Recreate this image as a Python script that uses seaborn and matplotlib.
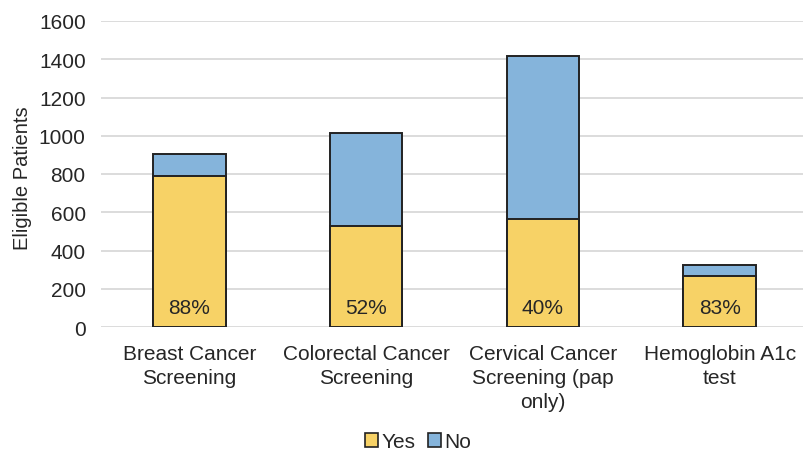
import matplotlib
matplotlib.use("Agg")
import matplotlib.pyplot as plt
import seaborn as sns
import pandas as pd
from matplotlib.patches import Patch

categories = [
    "Breast Cancer\nScreening",
    "Colorectal Cancer\nScreening",
    "Cervical Cancer\nScreening (pap\nonly)",
    "Hemoglobin A1c\ntest",
]
yes_counts = [792, 527, 566, 268]
no_counts = [110, 487, 850, 55]
pct_labels = ["88%", "52%", "40%", "83%"]
y_ticks = [0, 200, 400, 600, 800, 1000, 1200, 1400, 1600]

yes_color = "#F7D266"
no_color = "#85B4DB"
edge_color = "#222222"
text_color = "#262626"
fs = 15

sns.set_theme(style="white")
plt.rcParams["font.family"] = ["Liberation Sans", "DejaVu Sans"]

df = pd.DataFrame({
    "category": categories,
    "Yes": yes_counts,
    "No": no_counts,
})
df["Total"] = df["Yes"] + df["No"]

fig = plt.figure(figsize=(8.04, 4.52), dpi=100)
ax = fig.add_axes([101 / 804, 1 - 328 / 452, 707 / 804, (328 - 22) / 452])

sns.barplot(data=df, x="category", y="Total", color=no_color, width=0.41,
            edgecolor=edge_color, linewidth=1.4, saturation=1, ax=ax, zorder=3)
sns.barplot(data=df, x="category", y="Yes", color=yes_color, width=0.41,
            edgecolor=edge_color, linewidth=1.4, saturation=1, ax=ax, zorder=4)

for i, label in enumerate(pct_labels):
    ax.annotate(label, xy=(i, 0), xytext=(0, 7), textcoords="offset points",
                ha="center", va="bottom", fontsize=fs, color=text_color, zorder=5)

ax.set_ylim(0, 1600)
ax.set_xlim(-0.5, 3.5)
ax.set_yticks(y_ticks)
ax.set_yticklabels([str(t) for t in y_ticks])
ax.yaxis.grid(True, color="#d9d9d9", linewidth=1.3)
ax.set_axisbelow(True)
for s in ax.spines.values():
    s.set_visible(False)
ax.tick_params(axis="y", length=0, pad=11, labelsize=fs, labelcolor=text_color)
ax.tick_params(axis="x", length=0, pad=12, labelsize=fs, labelcolor=text_color)
for t in ax.get_xticklabels():
    t.set_linespacing(1.35)

ax.set_xlabel("")
ax.set_ylabel("Eligible Patients", fontsize=fs - 0.5, color=text_color)
ax.yaxis.set_label_coords(-0.098, 0.49)

handles = [
    Patch(facecolor=yes_color, edgecolor=edge_color, linewidth=1.2, label="Yes"),
    Patch(facecolor=no_color, edgecolor=edge_color, linewidth=1.2, label="No"),
]
fig.legend(handles=handles, loc="center", bbox_to_anchor=(418 / 804, 1 - 443 / 452),
           ncol=2, frameon=False, fontsize=fs, handlelength=0.65, handleheight=0.65,
           handletextpad=0.15, columnspacing=0.6, labelcolor=text_color)

fig.savefig("out.png", dpi=100)
